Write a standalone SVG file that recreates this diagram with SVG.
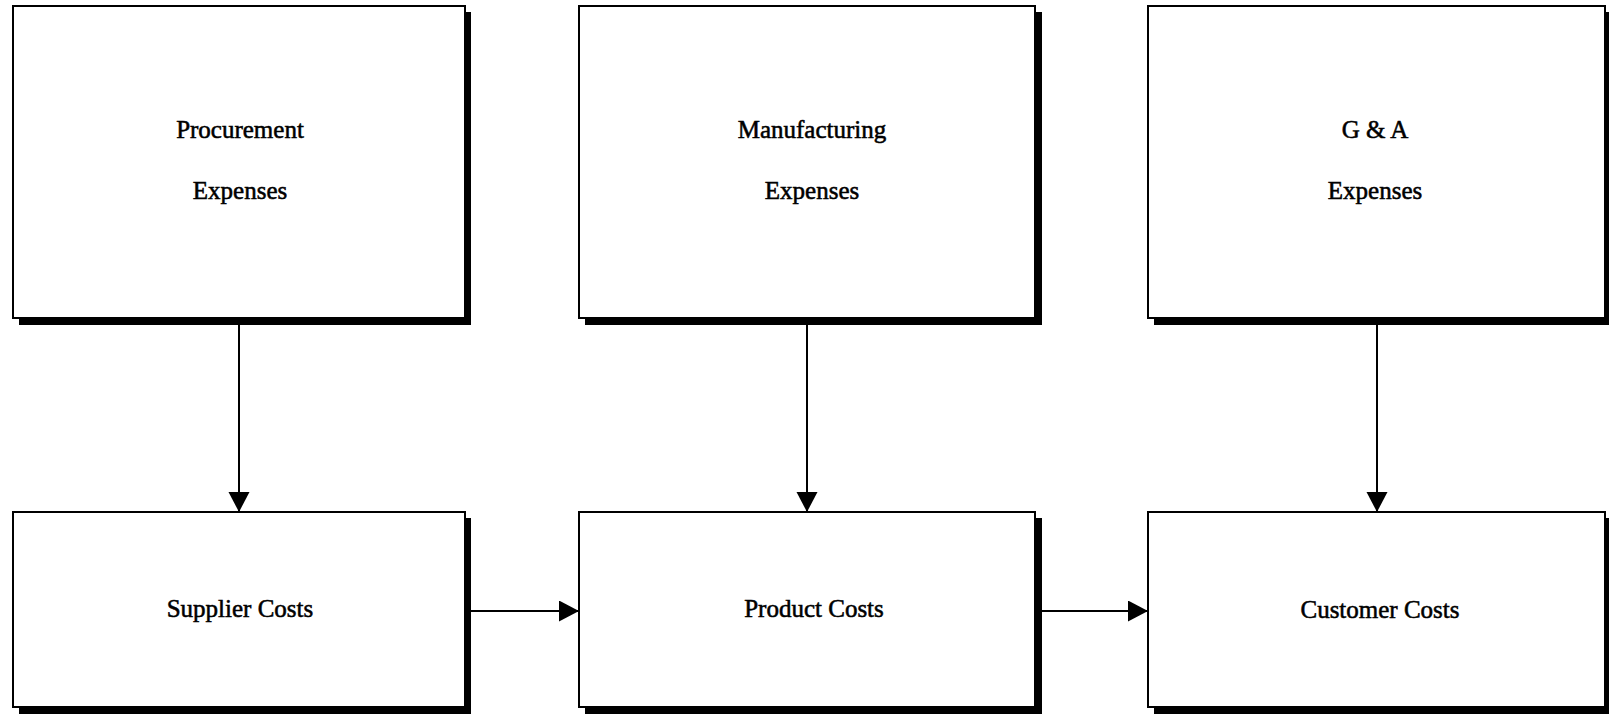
<svg xmlns="http://www.w3.org/2000/svg" width="1609" height="714" viewBox="0 0 1609 714">
  <style>
    .shadow { fill: #000; }
    .box { fill: #fff; stroke: #000; stroke-width: 2; }
    .label { font-family: "Liberation Serif", "Times New Roman", serif; font-size: 25px; fill: #000; text-anchor: middle; stroke: #000; stroke-width: 0.55; }
    .conn { stroke: #000; stroke-width: 2; fill: none; }
  </style>
  <defs>
    <marker id="arrow" markerUnits="userSpaceOnUse" markerWidth="22" markerHeight="22" refX="20" refY="10.5" orient="auto">
      <path d="M0,0 L20,10.5 L0,21 Z" fill="#000"/>
    </marker>
  </defs>
  <rect width="1609" height="714" fill="#fff"/>

  <!-- expense sources -->
  <g id="procurement-expenses">
    <rect class="shadow" x="19" y="12" width="452" height="313"/>
    <rect class="box" x="13" y="6" width="452" height="312"/>
    <text class="label" x="240" y="138">Procurement</text>
    <text class="label" x="240" y="199">Expenses</text>
  </g>
  <g id="manufacturing-expenses">
    <rect class="shadow" x="585" y="12" width="457" height="313"/>
    <rect class="box" x="579" y="6" width="456" height="312"/>
    <text class="label" x="812" y="138">Manufacturing</text>
    <text class="label" x="812" y="199">Expenses</text>
  </g>
  <g id="ga-expenses">
    <rect class="shadow" x="1154" y="12" width="457" height="313"/>
    <rect class="box" x="1148" y="6" width="457" height="312"/>
    <text class="label" x="1375" y="138">G &amp; A</text>
    <text class="label" x="1375" y="199">Expenses</text>
  </g>

  <!-- cost pools -->
  <g id="supplier-costs">
    <rect class="shadow" x="19" y="518" width="452" height="196"/>
    <rect class="box" x="13" y="512" width="452" height="195"/>
    <text class="label" x="240" y="617">Supplier Costs</text>
  </g>
  <g id="product-costs">
    <rect class="shadow" x="585" y="518" width="457" height="196"/>
    <rect class="box" x="579" y="512" width="456" height="195"/>
    <text class="label" x="814" y="617">Product Costs</text>
  </g>
  <g id="customer-costs">
    <rect class="shadow" x="1154" y="518" width="457" height="196"/>
    <rect class="box" x="1148" y="512" width="457" height="195"/>
    <text class="label" x="1380" y="618">Customer Costs</text>
  </g>

  <!-- connectors -->
  <g id="connectors">
    <line class="conn" x1="239" y1="325" x2="239" y2="512" marker-end="url(#arrow)"/>
    <line class="conn" x1="807" y1="325" x2="807" y2="512" marker-end="url(#arrow)"/>
    <line class="conn" x1="1377" y1="325" x2="1377" y2="512" marker-end="url(#arrow)"/>
    <line class="conn" x1="471" y1="611" x2="579" y2="611" marker-end="url(#arrow)"/>
    <line class="conn" x1="1042" y1="611" x2="1148" y2="611" marker-end="url(#arrow)"/>
  </g>
</svg>
